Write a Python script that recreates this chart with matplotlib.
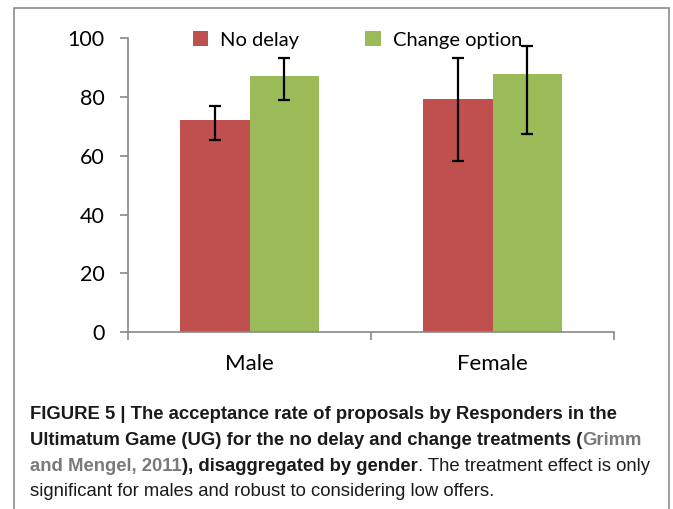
import numpy as np
import matplotlib
matplotlib.use("Agg")
import matplotlib.pyplot as plt
from matplotlib.patches import Rectangle

# Data
groups = ["Male", "Female"]
series = ["No delay", "Change option"]
no_delay = [72.3, 79.2]
no_delay_hi = [76.8, 93.2]
no_delay_lo = [65.4, 58.3]
change = [87.3, 87.7]
change_hi = [93.2, 97.5]
change_lo = [79.1, 67.5]
yticks = [0, 20, 40, 60, 80, 100]

red = "#C0504D"
green = "#9BBB59"
axis_grey = "#898989"

W, H = 673, 509
fig = plt.figure(figsize=(W / 100, H / 100), dpi=100)

ax = fig.add_axes([128 / W, (H - 332) / H, 486 / W, (332 - 38.3) / H])

x = np.arange(len(groups))
bw = 0.285
err_kw = dict(ecolor="black", elinewidth=1.6, capsize=4.5, capthick=1.6)

ax.bar(x - bw / 2, no_delay, bw, color=red, label=series[0], zorder=2,
       yerr=[np.subtract(no_delay, no_delay_lo), np.subtract(no_delay_hi, no_delay)],
       error_kw=err_kw)
ax.bar(x + bw / 2, change, bw, color=green, label=series[1], zorder=2,
       yerr=[np.subtract(change, change_lo), np.subtract(change_hi, change)],
       error_kw=err_kw)

ax.set_xlim(-0.5, len(groups) - 0.5)
ax.set_ylim(0, 100)
ax.set_yticks(yticks)
ax.set_xticks(x)
ax.set_xticklabels(groups)
ax.set_xticks(np.arange(len(groups) + 1) - 0.5, minor=True)

for s in ["top", "right"]:
    ax.spines[s].set_visible(False)
for s in ["left", "bottom"]:
    ax.spines[s].set_color(axis_grey)
    ax.spines[s].set_linewidth(1.2)

ax.tick_params(axis="y", direction="out", length=6, width=1.2, color=axis_grey,
               labelsize=15.5, pad=11, labelcolor="black")
ax.tick_params(axis="x", which="major", length=0, labelsize=16, pad=16)
ax.tick_params(axis="x", which="minor", direction="out", length=6, width=1.2,
               color=axis_grey)
for lab in ax.get_xticklabels() + ax.get_yticklabels():
    lab.set_fontfamily("Lato")

leg = ax.legend(loc="upper center", bbox_to_anchor=(0.472, 1.085), ncol=2,
                frameon=False, prop={"family": "Lato", "size": 14.5},
                handlelength=0.75, handleheight=0.75, handletextpad=0.6,
                columnspacing=3.3)

# outer frame of the figure panel
fig.patches.append(Rectangle((14 / W, -0.05), (669 - 14) / W, 1.05 - 8 / H,
                             transform=fig.transFigure, fill=False,
                             edgecolor="#8c8c8c", linewidth=1.2))

# caption, drawn piece by piece so that the style can change within a line
renderer = fig.canvas.get_renderer()
cap_size = 13.3
grey_txt = "#7a7a7a"


def caption_line(y_px, pieces):
    xpos = 30
    for txt, weight, color in pieces:
        t = fig.text(xpos / W, (H - y_px) / H, txt, fontsize=cap_size,
                     fontfamily="Liberation Sans", fontweight=weight,
                     color=color, va="baseline", ha="left")
        bb = t.get_window_extent(renderer=renderer)
        xpos += bb.width


caption_line(419, [("FIGURE 5 | The acceptance rate of proposals by Responders in the",
                    "bold", "#1a1a1a")])
caption_line(445, [("Ultimatum Game (UG) for the no delay and change treatments (",
                    "bold", "#1a1a1a"),
                   ("Grimm", "bold", grey_txt)])
caption_line(471, [("and Mengel, 2011", "bold", grey_txt),
                   ("), disaggregated by gender", "bold", "#1a1a1a"),
                   (". The treatment effect is only", "normal", "#1a1a1a")])
caption_line(496, [("significant for males and robust to considering low offers.",
                    "normal", "#1a1a1a")])

fig.savefig("out.png", dpi=100)
